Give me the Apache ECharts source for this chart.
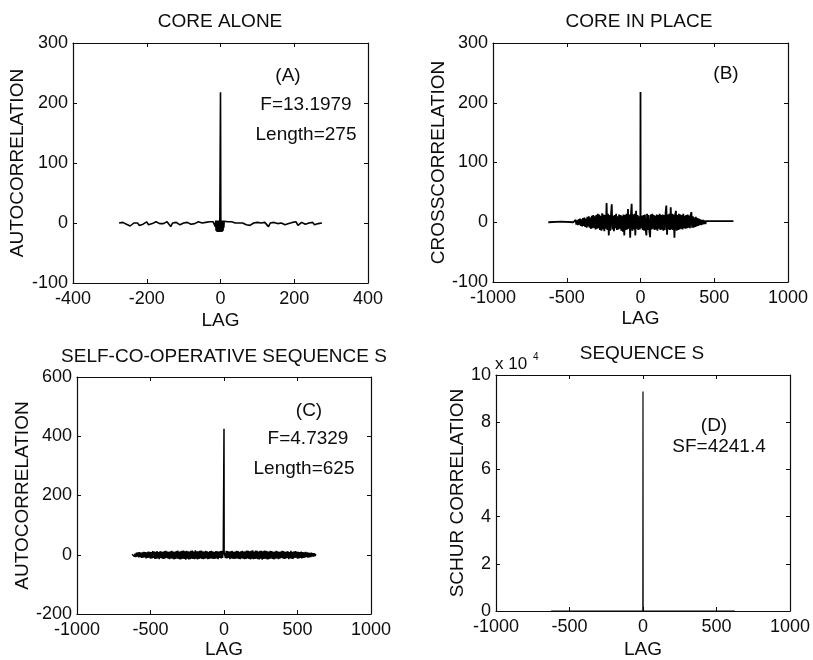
<!DOCTYPE html>
<html><head><meta charset="utf-8">
<script src="https://cdn.jsdelivr.net/npm/echarts@6/dist/echarts.min.js"></script>
<style>html,body{margin:0;padding:0;background:#fff}#c{width:813px;height:660px}</style>
</head><body><div id="c"></div>
<script>
// ---------- DATA ----------
const lagStep = 5;

// (A) CORE ALONE autocorrelation
const aLeftStart = -275;
const aLeftVals = [0,1,1,0,-2,-4,-5,-3,0,2, 0,-4,-5,-2,1,2,-3,-4,-1,2, 2,1,-1,-2,-1,1,2,0,-6,0, 1,1,0,-3,-3,0,1,1,0,-2, -3,-1,1,2,1,0,0,1,2,2, 1,2];
const aCenterLags = [-17,-16,-15,-14,-13,-12,-11,-10,-9,-8,-7,-6,-5,-4,-3,-2,-1,0,1,2,3,4,5,6,7,8,9,10,11];
const aCenterVals = [3,1,3,-6,4,-13,3,-14,4,-15,3,-14,4,-15,3,-15,-14,218,-14,3,-15,4,-14,3,-13,4,-8,3,1];
const aRightStart = 15;
const aRightVals = [3,2,1,2,1,0,1,0,1,0, -1,-3,-4,-4,-2,0,1,1,0,0, 1,1,0,-6,0,1,1,0,-1,-2, 0,2,-3,-4,-1,2,1,-1,2,-4, -3,1,2,-2,-4,0,2,1,-3,-4, -1,1,0];

// (B) CORE IN PLACE crosscorrelation
const bLeftTail = [[-625,0],[-540,1],[-455,0]];
const bLeftStart = -450;
const bLeftVals = [
  2,-3,4,-4,3,-5,5,-4,6,-6,
  5,-7,7,-6,8,-8,6,-9,9,-7,
  10,-9,8,-11,11,-10,12,-9,10,-12,
  12,-11,14,-10,13,-13,11,-14,15,-12,
  13,-15,12,-11,32,-13,14,-22,12,-14,
  13,30,-12,11,-15,12,-10,14,-13,10,
  -12,13,-11,12,-14,11,-16,13,-22,12,
  -13,14,-12,22,-11,13,-26,12,31,-14,
  13,-12,14,-22,19,-11,12,-13,10,-12
];
const bCenter = [[-1,10],[0,218],[1,-10]];
const bRightStart = 5;
const bRightVals = [
  -12,11,-13,12,-14,13,-12,-22,14,-13,
  12,-15,-25,13,-12,14,-11,12,-13,11,
  -12,13,-14,12,-11,14,-13,12,-12,13,
  -14,12,-13,15,28,-21,13,-12,14,-13,
  25,-12,14,-13,13,-26,12,19,-14,12,
  -13,14,-12,13,-11,12,-12,14,-10,11,
  -11,12,-10,13,-9,11,-10,12,17,-9,
  10,-9,8,-8,9,-7,7,-6,6,-5,
  5,-5,4,-4,4,-3,3,-3,2,1
];
const bRightTail = [[455,2],[540,2],[630,2]];

// (C) SELF-CO-OPERATIVE SEQUENCE S autocorrelation
const cLeftStart = -625;
const cLeftVals = [
  2,-4,5,-6,4,-8,7,-6,8,-9,
  9,-8,7,-11,8,-10,10,-9,9,-12,
  8,-11,11,-10,10,-13,9,-12,12,-11,
  11,-14,10,-13,12,-12,9,-15,12,-11,
  11,-13,10,-14,12,-12,13,-11,11,-13,
  10,-15,12,-12,13,-13,11,-16,10,-14,
  12,-12,14,-14,11,-16,12,-15,13,-13,
  14,-14,12,-17,13,-13,12,-16,11,-15,
  13,-13,14,-14,11,-15,15,-13,12,-16,
  12,-14,13,-12,14,-14,12,-15,11,-13,
  13,-12,12,-15,10,-14,12,-12,13,-13,
  11,-14,10,-13,12,-12,12,-15,11,-11,
  12,-12,13,-11,11
];
const cCenter = [[-1,8],[0,425],[1,8]];
const cRightStart = 5;
const cRightVals = [
  11,-11,13,-12,12,
  -11,11,-15,12,-12,13,-13,10,-14,11,
  -13,13,-12,12,-14,10,-15,12,-12,13,
  -13,11,-15,12,-14,14,-12,13,-14,12,
  -16,13,-13,15,-15,11,-14,14,-13,13,
  -15,11,-16,13,-13,13,-17,12,-14,14,
  -13,13,-15,12,-16,11,-14,13,-12,12,
  -14,10,-16,11,-13,13,-12,12,-15,10,
  -13,11,-11,13,-12,12,-14,10,-13,11,
  -11,12,-15,9,-12,13,-13,10,-14,11,
  -11,12,-10,11,-13,10,-12,9,-11,11,
  -12,9,-11,8,-10,10,-8,8,-10,7,
  -9,6,-8,7,-6,5,-6,5,-4,2
];

// (D) SEQUENCE S Schur correlation
const dLags = [-625,-1,0,1,625];
const dVals = [0,0,93000,0,0];

// axis tick settings
const xTicksA = {min:-400, max:400, interval:200};
const yTicksA = {min:-100, max:300, interval:100};
const xTicksB = {min:-1000, max:1000, interval:500};
const yTicksB = {min:-100, max:300, interval:100};
const xTicksC = {min:-1000, max:1000, interval:500};
const yTicksC = {min:-200, max:600, interval:200};
const xTicksD = {min:-1000, max:1000, interval:500};
const yTicksD = {min:0, max:100000, interval:20000};

// ---------- BUILD ----------
function stepped(start, vals){ return vals.map((v,i)=>[start+i*lagStep, v]); }
function zip(xs, ys){ return xs.map((x,i)=>[x, ys[i]]); }

const dataA = stepped(aLeftStart, aLeftVals).concat(zip(aCenterLags, aCenterVals), stepped(aRightStart, aRightVals));
const dataB = bLeftTail.concat(stepped(bLeftStart, bLeftVals), bCenter, stepped(bRightStart, bRightVals), bRightTail);
const dataC = stepped(cLeftStart, cLeftVals).concat(cCenter, stepped(cRightStart, cRightVals));
const dataD = zip(dLags, dVals);

const FONT = '"Liberation Sans", Arial, Helvetica, sans-serif';
const INK = '#0d0d0d';
const FS = 18;
const FT = 19;

const grids = [
  {left:73, top:43, width:295, height:240},
  {left:493, top:43, width:295, height:239},
  {left:77, top:377, width:294, height:238},
  {left:496, top:375, width:295, height:238}
];
const xt = [xTicksA, xTicksB, xTicksC, xTicksD];
const yt = [yTicksA, yTicksB, yTicksC, yTicksD];
const yNames = ['AUTOCORRELATION','CROSSCORRELATION','AUTOCORRELATION','SCHUR CORRELATION'];
const yGaps = [46, 45, 45, 29];
const xGaps = [28, 27, 26, 29];

const lineCommon = {show:true, onZero:false, lineStyle:{color:INK, width:1.2}};
const tickCommon = {show:true, inside:true, length:4, lineStyle:{color:INK, width:1}};

const xAxis = [], yAxis = [];
grids.forEach((g, i) => {
  xAxis.push({type:'value', gridIndex:i, position:'bottom', min:xt[i].min, max:xt[i].max, interval:xt[i].interval,
    axisLine:lineCommon, axisTick:tickCommon, splitLine:{show:false},
    axisLabel:{color:INK, fontSize:FS, fontFamily:FONT, margin:7, showMinLabel:true, showMaxLabel:true, formatter:(v)=>String(v)},
    name:'LAG', nameLocation:'middle', nameGap:xGaps[i], nameTextStyle:{color:INK, fontSize:FT, fontFamily:FONT}});
  xAxis.push({type:'value', gridIndex:i, position:'top', min:xt[i].min, max:xt[i].max, interval:xt[i].interval,
    axisLine:lineCommon, axisTick:tickCommon, splitLine:{show:false}, axisLabel:{show:false}});
  yAxis.push({type:'value', gridIndex:i, position:'left', min:yt[i].min, max:yt[i].max, interval:yt[i].interval,
    axisLine:lineCommon, axisTick:tickCommon, splitLine:{show:false},
    axisLabel:{color:INK, fontSize:FS, fontFamily:FONT, margin:5, showMinLabel:true, showMaxLabel:true,
      formatter: i===3 ? (v)=>String(v/10000) : (v)=>String(v)},
    name:yNames[i], nameLocation:'middle', nameRotate:90, nameGap:yGaps[i], nameTextStyle:{color:INK, fontSize:FT, fontFamily:FONT}});
  yAxis.push({type:'value', gridIndex:i, position:'right', min:yt[i].min, max:yt[i].max, interval:yt[i].interval,
    axisLine:lineCommon, axisTick:tickCommon, splitLine:{show:false}, axisLabel:{show:false}});
});

function lineSeries(i, data, w){
  return {type:'line', xAxisIndex:i*2, yAxisIndex:i*2, data:data, showSymbol:false, symbol:'none',
    lineStyle:{color:'#000', width:w, join:'bevel'}, smooth:false, animation:false, silent:true};
}

function txt(t, x, y, size){
  return {type:'text', style:{text:t, x:x, y:y, textAlign:'center', textVerticalAlign:'middle',
    font: (size||FT)+'px '+FONT, fill:INK}};
}

const option = {
  animation:false,
  backgroundColor:'#fff',
  grid: grids.map(g => Object.assign({containLabel:false}, g)),
  xAxis: xAxis,
  yAxis: yAxis,
  series: [
    lineSeries(0, dataA, 1.6),
    lineSeries(1, dataB, 1.8),
    lineSeries(2, dataC, 1.5),
    lineSeries(3, dataD, 1.2)
  ],
  graphic: [
    txt('CORE ALONE', 220, 22),
    txt('CORE IN PLACE', 639, 22),
    txt('SELF-CO-OPERATIVE SEQUENCE S', 224, 357),
    txt('SEQUENCE S', 642, 354),
    txt('(A)', 288, 76),
    txt('F=13.1979', 306, 105),
    txt('Length=275', 306, 135),
    txt('(B)', 726, 74),
    txt('(C)', 309, 411),
    txt('F=4.7329', 308, 439),
    txt('Length=625', 304, 469),
    txt('(D)', 714, 426),
    txt('SF=4241.4', 719, 447),
    {type:'text', style:{text:'x 10', x:495, y:364, textAlign:'left', textVerticalAlign:'middle', font:'17px '+FONT, fill:INK}},
    {type:'text', style:{text:'4', x:533, y:357, textAlign:'left', textVerticalAlign:'middle', font:'10px '+FONT, fill:INK}}
  ]
};

const chart = echarts.init(document.getElementById('c'), null, {renderer:'canvas'});
chart.setOption(option);
</script>
</body></html>
